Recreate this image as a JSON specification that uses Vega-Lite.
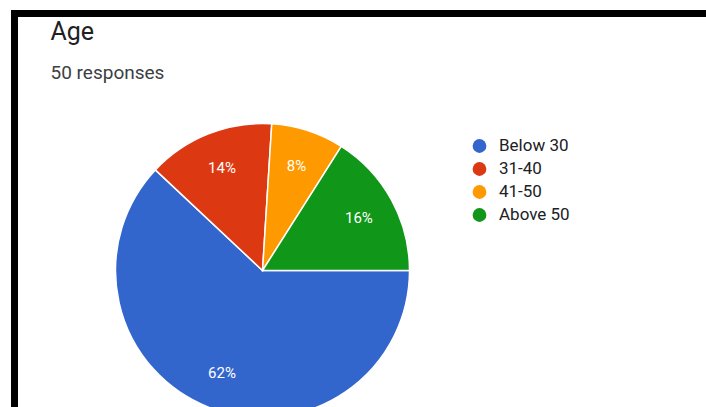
{
  "$schema": "https://vega.github.io/schema/vega-lite/v6.json",
  "autosize": "none",
  "width": 691.5,
  "height": 393.5,
  "padding": {"left": 14.5, "top": 13.5, "right": 0, "bottom": 0},
  "background": "white",
  "title": {
    "text": "Age",
    "subtitle": "50 responses",
    "anchor": "start",
    "frame": "group",
    "offset": -69,
    "dx": 36,
    "font": "Roboto",
    "fontSize": 25,
    "fontWeight": "normal",
    "color": "#202124",
    "subtitleFont": "Roboto",
    "subtitleFontSize": 19,
    "subtitleColor": "#3c4043",
    "subtitlePadding": 19
  },
  "data": {
    "values": [
      {"Age": "Below 30", "count": 31, "label": "62%"},
      {"Age": "31-40", "count": 7, "label": "14%"},
      {"Age": "41-50", "count": 4, "label": "8%"},
      {"Age": "Above 50", "count": 8, "label": "16%"}
    ]
  },
  "encoding": {
    "theta": {"field": "count", "type": "quantitative", "stack": true, "scale": {"range": [-0.816814, 5.466371]}},
    "order": {"field": "Age", "sort": "ascending"},
    "x": {"datum": 0, "type": "quantitative", "scale": {"domain": [-1, 1.788], "nice": false}, "axis": null},
    "y": {"datum": 0, "type": "quantitative", "scale": {"domain": [-1, 1.883], "nice": false}, "axis": null}
  },
  "layer": [
    {
      "mark": {"type": "arc", "outerRadius": 147, "stroke": "white", "strokeWidth": 1.5},
      "encoding": {
        "color": {
          "field": "Age",
          "type": "nominal",
          "scale": {
            "domain": ["Below 30", "31-40", "41-50", "Above 50"],
            "range": ["#3366cc", "#dc3912", "#ff9900", "#109618"]
          },
          "legend": {
            "orient": "none",
            "legendX": 456.5,
            "legendY": 124,
            "title": null,
            "symbolType": "circle",
            "symbolSize": 190,
            "symbolStrokeWidth": 0,
            "labelFontSize": 17,
            "labelFont": "Roboto",
            "labelColor": "#202124",
            "rowPadding": 5,
            "labelOffset": 11,
            "padding": 0
          }
        }
      }
    },
    {
      "mark": {"type": "text", "radius": 110, "fill": "white", "font": "Roboto", "fontSize": 15},
      "encoding": {
        "text": {"field": "label", "type": "nominal"}
      }
    }
  ],
  "config": {
    "view": {
      "stroke": "black",
      "strokeWidth": 7,
      "strokeCap": "square",
      "strokeDash": [691.5, 1085, 393.5]
    }
  }
}
